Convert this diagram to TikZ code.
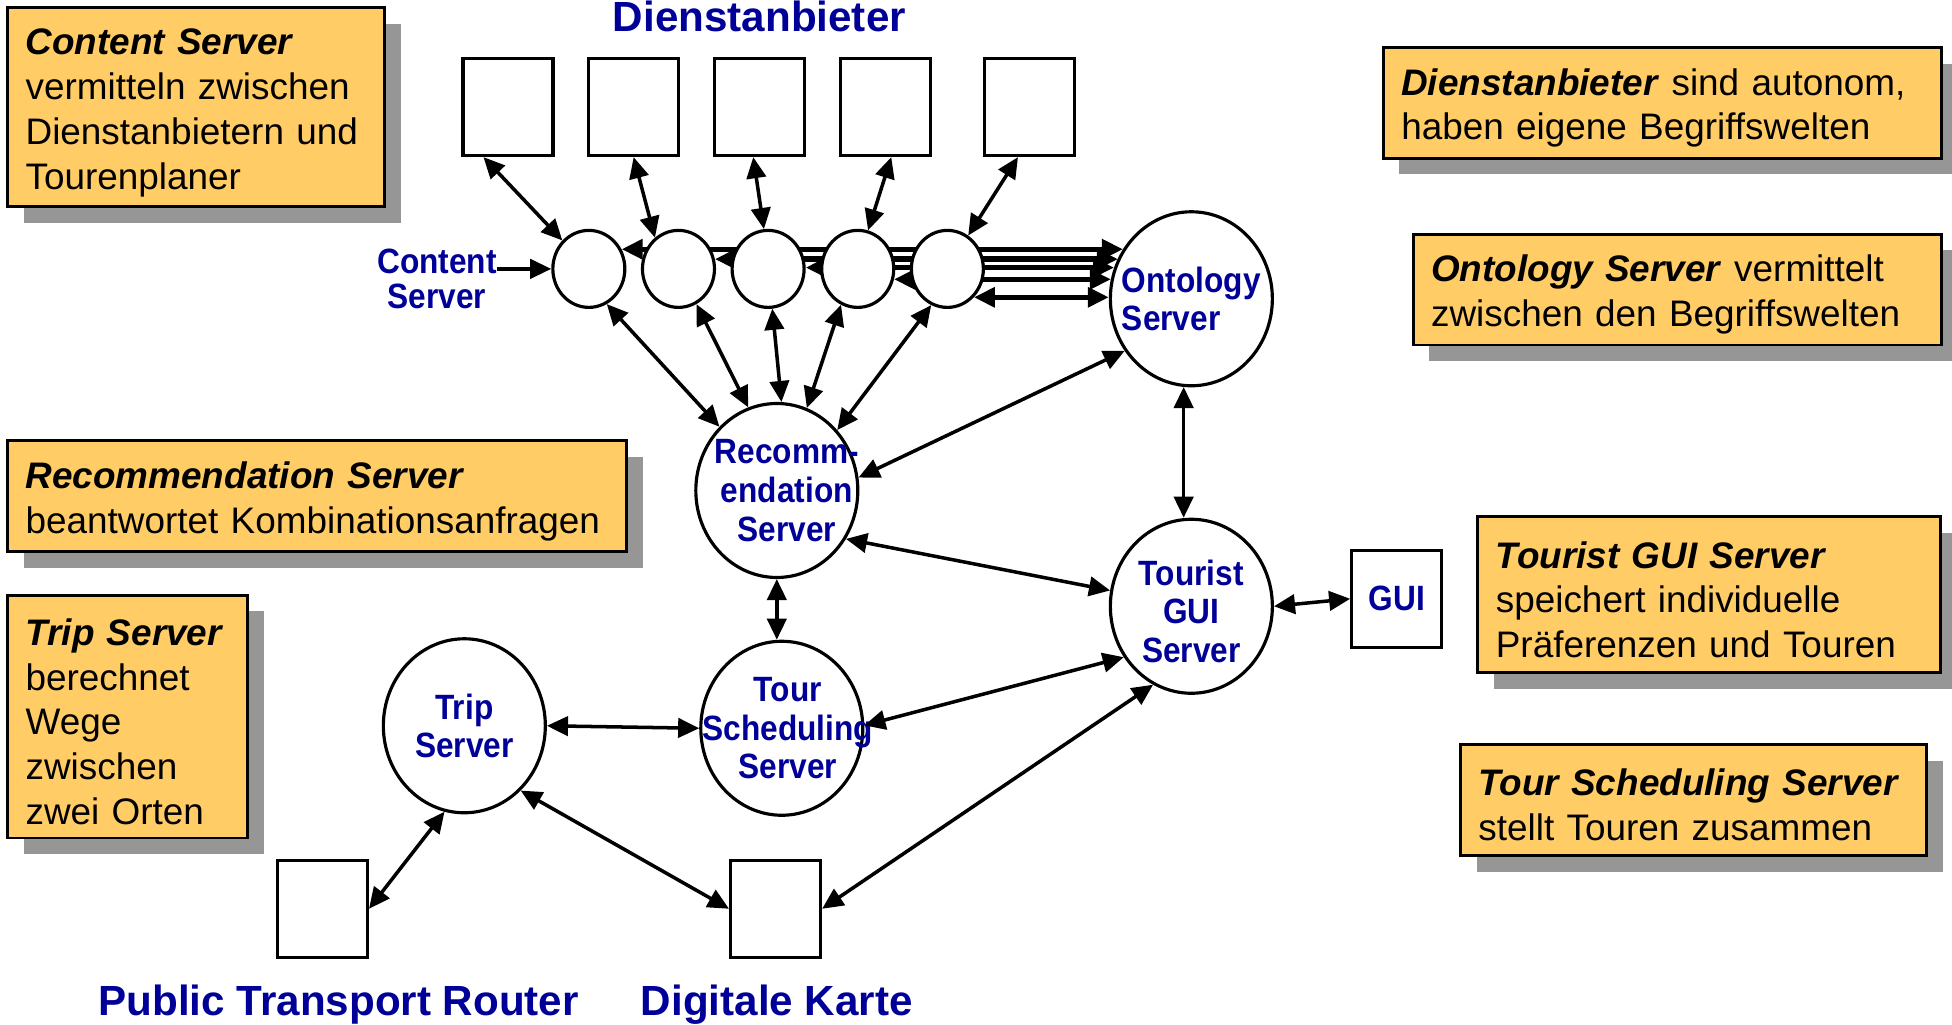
\documentclass[tikz,border=0pt]{standalone}
\usepackage{fontspec}
\setmainfont{Liberation Sans}
\newfontfamily\narrowfont[FakeStretch=0.9]{Liberation Sans}
\usetikzlibrary{shapes.geometric,arrows.meta,shadows}
\definecolor{labelblue}{RGB}{0,0,153}
\definecolor{noteyellow}{RGB}{255,204,102}
\definecolor{notegray}{RGB}{150,150,150}
\pgfdeclarelayer{bg}
\pgfsetlayers{bg,main}
\tikzset{
	>={Triangle[length=6pt,width=5.5pt]},
	server/.style={ellipse,draw,line width=0.9pt,fill=white,minimum width=16.2mm,minimum height=17.4mm,inner sep=0pt},
	srvtext/.style={text=labelblue,font=\narrowfont\bfseries\fontsize{10}{11}\selectfont,align=center,inner sep=0pt},
	csnode/.style={ellipse,draw,line width=0.9pt,fill=white,minimum width=7.2mm,minimum height=7.7mm,inner sep=0pt},
	ext/.style={rectangle,draw,line width=0.9pt,fill=white,minimum width=9mm,minimum height=9.7mm,inner sep=0pt},
	note/.style={rectangle,draw,line width=0.8pt,fill=noteyellow,anchor=north west,inner xsep=1.8mm,inner ysep=0pt,align=left,font=\fontsize{10.5}{12.75}\selectfont,execute at begin node={\rule{0pt}{10.5pt}},general shadow={fill=notegray,draw=none,shadow xshift=1.62mm,shadow yshift=-1.62mm}},
	biglabel/.style={text=labelblue,font=\bfseries\fontsize{12}{14}\selectfont,anchor=base},
	link/.style={<->,line width=1pt},
}
\begin{document}
\begin{tikzpicture}[x=0.1245mm,y=-0.1245mm]
	\useasboundingbox (0,0) rectangle (1568,823);
	\node[note,text width=34.1mm,minimum height=19.92mm] (csnote) at (5,5) {\textbf{\textit{Content Server}}\\vermitteln zwischen\\Dienstanbietern und\\Tourenplaner};
	\node[note,text width=52.2mm,minimum height=11.08mm] (danote) at (1110,37) {\textbf{\textit{Dienstanbieter}} sind autonom,\\haben eigene Begriffswelten};
	\node[note,text width=49.2mm,minimum height=11.08mm] (ontonote) at (1134,187) {\textbf{\textit{Ontology Server}} vermittelt\\zwischen den Begriffswelten};
	\node[note,text width=58.3mm,minimum height=11.08mm] (recnote) at (5,353) {\textbf{\textit{Recommendation Server}}\\beantwortet Kombinationsanfragen};
	\node[note,text width=20.4mm,minimum height=24.28mm] (tripnote) at (5,477) {\textbf{\textit{Trip Server}}\\berechnet\\Wege\\zwischen\\zwei Orten};
	\node[note,text width=42.7mm,minimum height=15.56mm] (guinote) at (1186,414) {\textbf{\textit{Tourist GUI Server}}\\speichert individuelle\\Präferenzen und Touren};
	\node[note,text width=43.0mm,minimum height=11.08mm] (tournote) at (1172,597) {\textbf{\textit{Tour Scheduling Server}}\\stellt Touren zusammen};

	\node[biglabel] (dalabel) at (610,25) {Dienstanbieter};
	\node[biglabel] (ptrlabel) at (272,816) {Public Transport Router};
	\node[biglabel] (kartelabel) at (624,816) {Digitale Karte};
	\node[srvtext,font=\narrowfont\bfseries\fontsize{10}{10}\selectfont] (cslabel) at (351,224) {Content\\Server};

	\foreach \i/\x in {1/408,2/509,3/610,4/711,5/827}
		\node[ext] (d\i) at (\x,86) {};
	\foreach \i/\x in {1/473,2/545,3/617,4/689,5/761}
		\node[csnode] (c\i) at (\x,216) {};

	\node[server,label={[srvtext,align=left]center:{Ontology\\Server}}] (onto) at (957,240) {};
	\node[server,label={[srvtext,xshift=1mm]center:{Recomm-\\endation\\Server}}] (rec) at (624,394) {};
	\node[server,label={[srvtext,yshift=-0.5mm]center:{Tourist\\GUI\\Server}}] (tourist) at (957,487) {};
	\node[server,label={[srvtext,xshift=0.6mm]center:{Tour\\Scheduling\\Server}}] (tour) at (628,585) {};
	\node[server,label={[srvtext]center:{Trip\\Server}}] (trip) at (373,583) {};
	\node[ext,srvtext] (gui) at (1122,481) {GUI};
	\node[ext] (ptr) at (259,730) {};
	\node[ext] (karte) at (623,730) {};

	\begin{pgfonlayer}{bg}
		\foreach \i/\a/\b in {1/31/144,2/15/151,3/2/158,4/344/166,5/313/178}
			\draw[link,line width=1.5pt] (c\i.\a) -- (c\i.\a -| onto.\b);
	\end{pgfonlayer}

	\draw[->,line width=1pt] (cslabel.east |- c1.west) -- (c1.west);
	\draw[link] (d1.244) -- (c1.133);
	\draw[link] (d2.south) -- (c2.127);
	\draw[link] (d3.263) -- (c3.96);
	\draw[link] (d4.277) -- (c4.75);
	\draw[link] (d5.257) -- (c5.58);
	\draw[link] (c1.297) -- (rec.132);
	\draw[link] (c2.297) -- (rec.109);
	\draw[link] (c3.276) -- (rec.87);
	\draw[link] (c4.245) -- (rec.70);
	\draw[link] (c5.246) -- (rec.45);
	\draw[link] (onto.218) -- (rec.9);
	\draw[link] (onto.265) -- (onto.265 |- tourist.north);
	\draw[link] (rec.325) -- (tourist.169);
	\draw[link] (rec.south) -- (rec.south |- tour.north);
	\draw[link] (tour.2) -- (tourist.217);
	\draw[link] (trip.east) -- (tour.west);
	\draw[link] (tourist.east) -- (gui.west);
	\draw[link] (tourist.244) -- (karte.east);
	\draw[link] (trip.311) -- (karte.west);
	\draw[link] (trip.257) -- (ptr.east);
\end{tikzpicture}
\end{document}
